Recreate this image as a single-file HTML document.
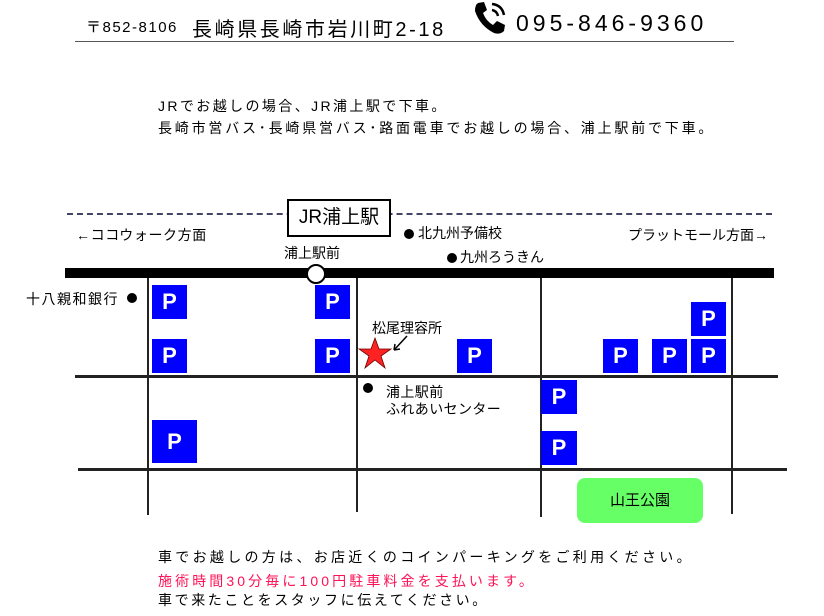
<!DOCTYPE html>
<html><head><meta charset="utf-8"><style>
body{margin:0;width:824px;height:616px;background:#fff;position:relative;overflow:hidden;font-family:"Liberation Sans","Noto Sans CJK JP",sans-serif;color:#000}
.a{position:absolute;white-space:nowrap}
.p{position:absolute;width:35px;height:34px;background:#0000ff;color:#fff;font:bold 22px "Liberation Sans",sans-serif;display:flex;align-items:center;justify-content:center}
.h{position:absolute;background:#222;height:2px}
.v{position:absolute;background:#222;width:2px}
.d{position:absolute;width:10px;height:10px;border-radius:50%;background:#000}
</style></head><body>
<div class="a" style="left:86px;top:16px;font-size:15px;letter-spacing:1.5px">〒852-8106</div>
<div class="a" style="left:192px;top:13px;font-size:20px;letter-spacing:2.6px">長崎県長崎市岩川町2-18</div>
<svg class="a" style="left:472px;top:0" width="40" height="36" viewBox="0 0 40 36"><path d="M6 3 L12 2 L15 10 L11 13 Q14 21 21 25 L25 21 L33 25 L32 31 Q28 35 22 33 Q8 26 3 11 Q3 5 6 3Z" fill="#000"/><path d="M20 4 Q30 5 32 15" stroke="#000" stroke-width="2.5" fill="none"/><path d="M20 10 Q25 11 26 16" stroke="#000" stroke-width="2.5" fill="none"/></svg>
<div class="a" style="left:516px;top:10px;font-size:23px;letter-spacing:4px">095-846-9360</div>
<div class="h" style="left:75px;top:41px;width:659px;height:1px;background:#555"></div>
<div class="a" style="left:158px;top:96px;font-size:14px;letter-spacing:2.4px">JRでお越しの場合、JR浦上駅で下車。</div>
<div class="a" style="left:158px;top:118px;font-size:14px;letter-spacing:2.8px">長崎市営バス･長崎県営バス･路面電車でお越しの場合、浦上駅前で下車。</div>
<div class="a" style="left:67px;top:213px;width:705px;border-top:2px dashed #446"></div>
<div class="a" style="left:287px;top:199px;width:100px;height:34px;border:2px solid #000;background:#fff;font-size:19px;text-align:center;line-height:34px">JR浦上駅</div>
<div class="a" style="left:76px;top:225px;font-size:14px;letter-spacing:0.6px">←ココウォーク方面</div>
<div class="a" style="left:628px;top:225px;font-size:14px">プラットモール方面→</div>
<div class="d" style="left:404px;top:229px"></div><div class="a" style="left:418px;top:223px;font-size:14px">北九州予備校</div>
<div class="d" style="left:447px;top:253px"></div><div class="a" style="left:460px;top:247px;font-size:14px">九州ろうきん</div>
<div class="a" style="left:284px;top:243px;font-size:14px">浦上駅前</div>
<div class="h" style="left:65px;top:268px;width:709px;height:10px;background:#000"></div>
<div class="a" style="left:306px;top:264px;width:16px;height:16px;border-radius:50%;background:#fff;border:2px solid #000"></div>
<div class="v" style="left:147px;top:278px;height:237px"></div>
<div class="v" style="left:356px;top:278px;height:234px"></div>
<div class="v" style="left:540px;top:278px;height:239px"></div>
<div class="v" style="left:731px;top:278px;height:236px"></div>
<div class="h" style="left:75px;top:375px;width:703px;height:3px"></div>
<div class="h" style="left:78px;top:468px;width:709px;height:3px"></div>
<div class="a" style="left:26px;top:289px;font-size:14px;letter-spacing:1.5px">十八親和銀行</div><div class="d" style="left:127px;top:293px"></div>
<div class="p" style="left:152px;top:285px">P</div>
<div class="p" style="left:315px;top:285px">P</div>
<div class="p" style="left:152px;top:339px">P</div>
<div class="p" style="left:315px;top:339px">P</div>
<div class="p" style="left:457px;top:339px">P</div>
<div class="p" style="left:603px;top:339px">P</div>
<div class="p" style="left:652px;top:339px">P</div>
<div class="p" style="left:691px;top:339px">P</div>
<div class="p" style="left:691px;top:302px">P</div>
<div class="p" style="left:152px;top:420px;width:45px;height:43px">P</div>
<div class="p" style="left:541px;top:380px;width:36px">P</div>
<div class="p" style="left:541px;top:431px;width:36px">P</div>
<div class="a" style="left:372px;top:318px;font-size:14px">松尾理容所</div>
<svg class="a" style="left:358px;top:334px" width="54" height="42"><polygon points="17,4 21,15 33,15 23,22 27,34 17,26 7,34 11,22 1,15 13,15" fill="#f22" stroke="#600" stroke-width="0.8"/><path d="M49 2 L37 15" stroke="#000" stroke-width="1.5"/><path d="M36 16 L37 10 M36 16 L42 15" stroke="#000" stroke-width="1.5"/></svg>
<div class="d" style="left:363px;top:383px"></div>
<div class="a" style="left:386px;top:384px;font-size:14px;line-height:17px;letter-spacing:0.4px">浦上駅前<br>ふれあいセンター</div>
<div class="a" style="left:577px;top:478px;width:126px;height:45px;border-radius:8px;background:#66ff66;font-size:15px;text-align:center;line-height:45px">山王公園</div>
<div class="a" style="left:158px;top:547px;font-size:14px;letter-spacing:3.3px">車でお越しの方は、お店近くのコインパーキングをご利用ください。</div>
<div class="a" style="left:158px;top:571px;font-size:14px;color:#ff1155;letter-spacing:3.1px">施術時間30分毎に100円駐車料金を支払います。</div>
<div class="a" style="left:158px;top:590px;font-size:14px;letter-spacing:2.6px">車で来たことをスタッフに伝えてください。</div>
</body></html>
